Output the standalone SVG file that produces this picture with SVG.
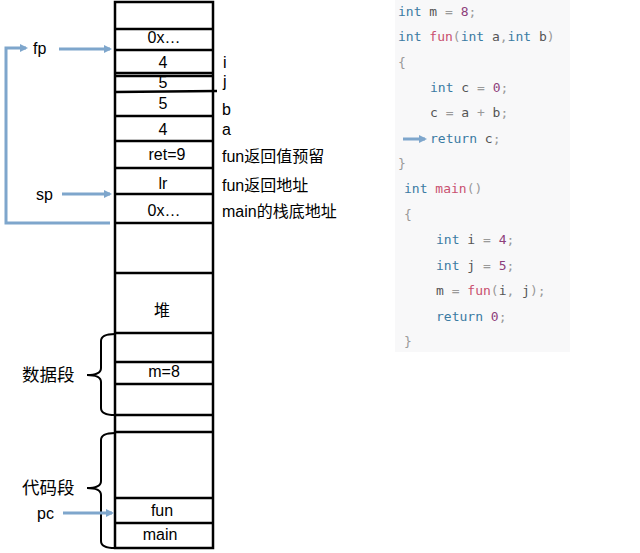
<svg xmlns="http://www.w3.org/2000/svg" width="640" height="553" viewBox="0 0 640 553">
<style>
.cell{fill:none;stroke:#000;stroke-width:2.5}
.ln{stroke:#000;stroke-width:2.5}
.t{font-family:"Liberation Sans",Arial,"Noto Sans CJK SC",sans-serif;font-size:16px;fill:#000}
.c{text-anchor:middle}
.cj{font-family:"Liberation Sans",Arial,"Noto Sans CJK SC",sans-serif;font-size:17.5px;fill:#000}
.brace{fill:none;stroke:#000;stroke-width:2}
.arr{fill:none;stroke:#7ea6cc;stroke-width:3}
.code{font-family:"DejaVu Sans Mono","Liberation Mono",monospace;font-size:13px;fill:#555;white-space:pre}
.k{fill:#3b7ba3}
.f{fill:#c9506f}
.n{fill:#8e3f7c}
.p{fill:#9a9a9a}
</style>
<defs>
<marker id="ah" markerWidth="8" markerHeight="8" refX="6" refY="4" orient="auto" markerUnits="userSpaceOnUse">
<path d="M0,0 L8,4 L0,8 z" fill="#7ea6cc"/>
</marker>
</defs>
<rect x="395" y="0" width="175" height="352" fill="#f8f8f9"/>
<g id="stack">
<rect class="cell" x="115" y="2" width="98" height="546"/>
<line class="ln" x1="115" y1="29" x2="213" y2="29"/>
<line class="ln" x1="115" y1="50" x2="213" y2="50"/>
<line class="ln" x1="115" y1="73" x2="213" y2="73"/>
<line class="ln" x1="115" y1="76" x2="213" y2="76"/>
<line class="ln" x1="115" y1="92" x2="217" y2="91"/>
<line class="ln" x1="115" y1="116" x2="213" y2="116"/>
<line class="ln" x1="115" y1="141" x2="213" y2="141"/>
<line class="ln" x1="115" y1="168" x2="213" y2="168"/>
<line class="ln" x1="115" y1="194" x2="213" y2="194"/>
<line class="ln" x1="115" y1="223" x2="213" y2="223"/>
<line class="ln" x1="115" y1="273" x2="213" y2="273"/>
<line class="ln" x1="115" y1="333" x2="213" y2="333"/>
<line class="ln" x1="115" y1="362" x2="213" y2="362"/>
<line class="ln" x1="115" y1="384" x2="213" y2="384"/>
<line class="ln" x1="115" y1="415" x2="213" y2="415"/>
<line class="ln" x1="115" y1="432" x2="213" y2="432"/>
<line class="ln" x1="115" y1="498" x2="213" y2="498"/>
<line class="ln" x1="115" y1="523" x2="213" y2="523"/>
<text class="t c" x="164" y="43">0x…</text>
<text class="t c" x="163" y="68">4</text>
<text class="t c" x="163" y="87.5">5</text>
<text class="t c" x="163" y="109">5</text>
<text class="t c" x="163" y="135">4</text>
<text class="t c" x="167" y="160">ret=9</text>
<text class="t c" x="163" y="189">lr</text>
<text class="t c" x="164" y="216">0x…</text>
<text class="t c" x="162" y="316">堆</text>
<text class="t c" x="164" y="377">m=8</text>
<text class="t c" x="162" y="516">fun</text>
<text class="t c" x="160" y="540">main</text>
</g>
<g id="stack-labels">
<text class="t" x="223" y="68">i</text>
<text class="t" x="223" y="87">j</text>
<text class="t" x="222" y="115">b</text>
<text class="t" x="222" y="135">a</text>
<text class="t" x="222" y="162">fun返回值预留</text>
<text class="t" x="222" y="191">fun返回地址</text>
<text class="t" x="222" y="217">main的栈底地址</text>
</g>
<g id="segments">
<path class="brace" d="M115,334 Q101,334 101,341 L101,368 Q101,375 87,375 Q101,375 101,382 L101,408 Q101,415 115,415"/>
<path class="brace" d="M115,433 Q101,433 101,440 L101,481 Q101,488 87,488 Q101,488 101,495 L101,541 Q101,548 115,548"/>
<text class="cj" x="22" y="381">数据段</text>
<text class="cj" x="22" y="494">代码段</text>
</g>
<g id="pointers">
<text class="t" x="33" y="54">fp</text>
<text class="t" x="36" y="200">sp</text>
<text class="t" x="37" y="519">pc</text>
</g>
<g id="connectors">
<line class="arr" x1="59" y1="49" x2="110" y2="49" marker-end="url(#ah)"/>
<line class="arr" x1="62" y1="194" x2="110" y2="194" marker-end="url(#ah)"/>
<polyline class="arr" points="110,223 6,223 6,48 26,48" marker-end="url(#ah)"/>
<line class="arr" x1="63" y1="513" x2="112" y2="513" marker-end="url(#ah)"/>
<line class="arr" x1="403" y1="139" x2="425" y2="139" marker-end="url(#ah)"/>
</g>
<g id="code">
<text class="code" x="398" y="16"><tspan class="k">int</tspan> m <tspan class="p">=</tspan> <tspan class="n">8</tspan><tspan class="p">;</tspan></text>
<text class="code" x="398" y="41"><tspan class="k">int</tspan> <tspan class="f">fun</tspan><tspan class="p">(</tspan><tspan class="k">int</tspan> a<tspan class="p">,</tspan><tspan class="k">int</tspan> b<tspan class="p">)</tspan></text>
<text class="code p" x="398" y="67">{</text>
<text class="code" x="430" y="92"><tspan class="k">int</tspan> c <tspan class="p">=</tspan> <tspan class="n">0</tspan><tspan class="p">;</tspan></text>
<text class="code" x="430" y="117">c <tspan class="p">=</tspan> a <tspan class="p">+</tspan> b<tspan class="p">;</tspan></text>
<text class="code" x="430" y="143"><tspan class="k">return</tspan> c<tspan class="p">;</tspan></text>
<text class="code p" x="398" y="168">}</text>
<text class="code" x="404" y="193"><tspan class="k">int</tspan> <tspan class="f">main</tspan><tspan class="p">()</tspan></text>
<text class="code p" x="404" y="219">{</text>
<text class="code" x="436" y="244"><tspan class="k">int</tspan> i <tspan class="p">=</tspan> <tspan class="n">4</tspan><tspan class="p">;</tspan></text>
<text class="code" x="436" y="270"><tspan class="k">int</tspan> j <tspan class="p">=</tspan> <tspan class="n">5</tspan><tspan class="p">;</tspan></text>
<text class="code" x="436" y="295">m <tspan class="p">=</tspan> <tspan class="f">fun</tspan><tspan class="p">(</tspan>i<tspan class="p">,</tspan> j<tspan class="p">);</tspan></text>
<text class="code" x="436" y="321"><tspan class="k">return</tspan> <tspan class="n">0</tspan><tspan class="p">;</tspan></text>
<text class="code p" x="404" y="346">}</text>
</g>
</svg>
